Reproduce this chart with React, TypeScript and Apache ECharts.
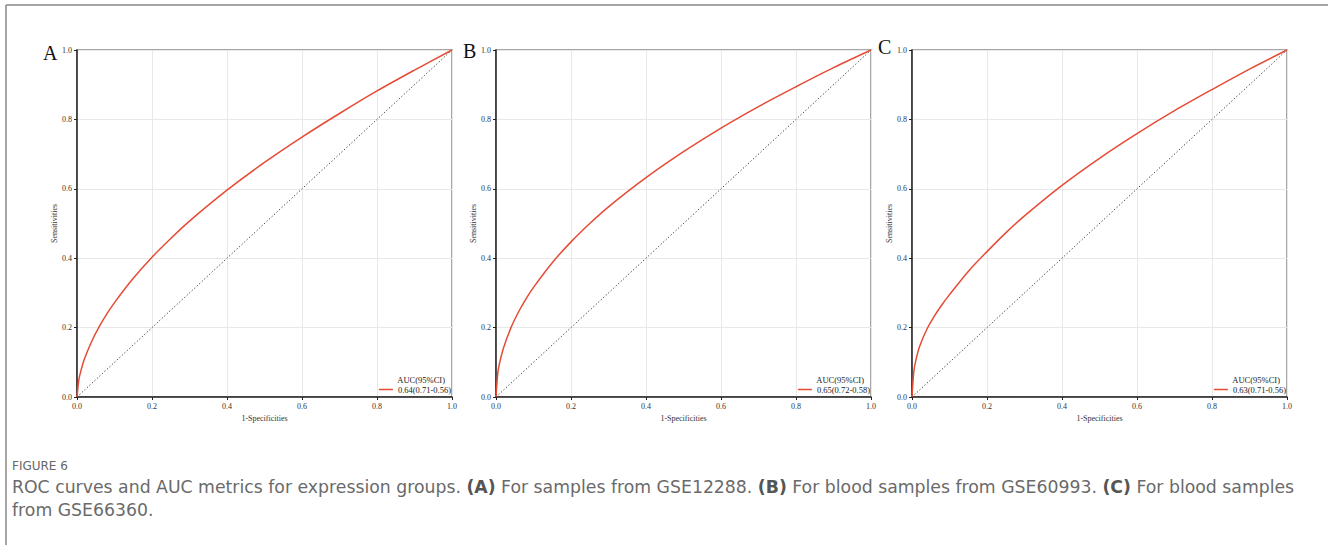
import React, { useEffect, useRef } from "react";
import * as echarts from "echarts";

const fpr = [0, 0.005, 0.01, 0.02, 0.04, 0.06, 0.08, 0.1, 0.15, 0.2, 0.25, 0.3, 0.4, 0.5, 0.6, 0.7, 0.8, 0.9, 1.0];
const tprA = [0, 0.05, 0.074, 0.11, 0.162, 0.204, 0.24, 0.272, 0.342, 0.403, 0.457, 0.507, 0.596, 0.676, 0.749, 0.817, 0.882, 0.942, 1.0];
const tprB = [0, 0.071, 0.1, 0.141, 0.2, 0.245, 0.283, 0.316, 0.387, 0.447, 0.5, 0.548, 0.632, 0.707, 0.775, 0.837, 0.894, 0.949, 1.0];
const tprC = [0, 0.075, 0.105, 0.145, 0.196, 0.234, 0.266, 0.295, 0.362, 0.419, 0.473, 0.522, 0.61, 0.688, 0.759, 0.825, 0.886, 0.945, 1.0];
const diag = [0, 1];
const panelLetters = ["A", "B", "C"];
const aucLabels = ["0.64(0.71-0.56)", "0.65(0.72-0.58)", "0.63(0.71-0.56)"];

const SERIF = '"Liberation Serif", "DejaVu Serif", serif';
const SANS = '"DejaVu Sans", "Open Sans", sans-serif';
const RED = "#E64B35";

export default function App() {
  const ref = useRef<HTMLDivElement>(null);
  useEffect(() => {
    if (!ref.current) return;
    const chart = echarts.init(ref.current, null, { renderer: "svg" });
    const lefts = [77, 496, 912];
    const letterY = [53, 51, 47];
    const letterX = [43, 463, 878];
    const W = 375, H = 347, TOP = 50;
    const tprs = [tprA, tprB, tprC];

    const grids = lefts.map((l) => ({
      left: l, top: TOP, width: W, height: H,
      show: true, borderColor: "#8a8a8a", borderWidth: 1.5, backgroundColor: "transparent",
    }));
    const axisCommon = {
      type: "value" as const, min: 0, max: 1, interval: 0.2,
      axisLine: { show: true, onZero: false, lineStyle: { color: "#222", width: 1.5 } },
      axisTick: { show: true, length: 3, lineStyle: { color: "#222" } },
      splitLine: { show: true, lineStyle: { color: "#e8e8e8", width: 1 } },
      axisLabel: { fontFamily: SERIF, fontSize: 8, color: "#333", margin: 5, formatter: (v: number) => v.toFixed(1) },
      nameTextStyle: { fontFamily: SERIF, fontSize: 8, color: "#333" },
    };
    const xAxis = lefts.map((_, i) => ({
      ...axisCommon, gridIndex: i, name: "1-Specificities", nameLocation: "middle", nameGap: 14,
    }));
    const yAxis = lefts.map((_, i) => ({
      ...axisCommon, gridIndex: i, name: "Sensitivities", nameLocation: "middle", nameGap: 18,
    }));
    const series: any[] = [];
    lefts.forEach((_, i) => {
      series.push({
        type: "line", name: aucLabels[i], xAxisIndex: i, yAxisIndex: i,
        data: fpr.map((x, k) => [x, tprs[i][k]]),
        smooth: 0.3, symbol: "none",
        lineStyle: { color: RED, width: 1.5 }, itemStyle: { color: RED }, z: 3,
      });
      series.push({
        type: "line", name: "diag" + i, xAxisIndex: i, yAxisIndex: i,
        data: diag.map((v) => [v, v]), symbol: "none",
        lineStyle: { color: "#333", width: 1, type: [1.2, 2.2] }, z: 2,
      });
    });
    const legend = lefts.map((l, i) => ({
      data: [aucLabels[i]], right: 1328 - (l + W) + 1, top: 385, padding: 0,
      icon: "rect", itemWidth: 14, itemHeight: 1.5, itemGap: 0,
      textStyle: { fontFamily: SERIF, fontSize: 8.5, color: "#222", padding: [0, 0, 0, 0] },
      selectedMode: false,
    }));
    const graphic: any[] = [
      { type: "line", shape: { x1: 6, y1: 5, x2: 1328, y2: 5 }, style: { stroke: "#888", lineWidth: 1.5 } },
      { type: "line", shape: { x1: 6, y1: 5, x2: 6, y2: 545 }, style: { stroke: "#888", lineWidth: 1.5 } },
      { type: "text", x: 12, y: 466, style: { text: "FIGURE 6", font: `12px ${SANS}`, fill: "#666", verticalAlign: "middle" } },
      {
        type: "text", x: 12, y: 487,
        style: {
          text: "ROC curves and AUC metrics for expression groups. {b|(A)} For samples from GSE12288. {b|(B)} For blood samples from GSE60993. {b|(C)} For blood samples",
          font: `17.3px ${SANS}`, fill: "#6a6a6a", verticalAlign: "middle",
          rich: { b: { fontFamily: SANS, fontSize: 17.3, fontWeight: "bold", fill: "#555" } },
        },
      },
      {
        type: "text", x: 12, y: 510,
        style: { text: "from GSE66360.", font: `17.3px ${SANS}`, fill: "#6a6a6a", verticalAlign: "middle" },
      },
    ];
    lefts.forEach((l, i) => {
      graphic.push({
        type: "text", x: letterX[i], y: letterY[i],
        style: { text: panelLetters[i], font: `20px ${SERIF}`, fill: "#111", verticalAlign: "middle" },
      });
      graphic.push({
        type: "text", x: l + W - 7, y: 380,
        style: { text: "AUC(95%CI)", font: `8.5px ${SERIF}`, fill: "#222", align: "right", verticalAlign: "middle" },
      });
    });
    chart.setOption({
      animation: false,
      backgroundColor: "#fff",
      grid: grids, xAxis, yAxis, series, legend, graphic,
    });
    return () => chart.dispose();
  }, []);
  return <div ref={ref} style={{ position: "absolute", left: 0, top: 0, width: 1328, height: 545 }} />;
}
